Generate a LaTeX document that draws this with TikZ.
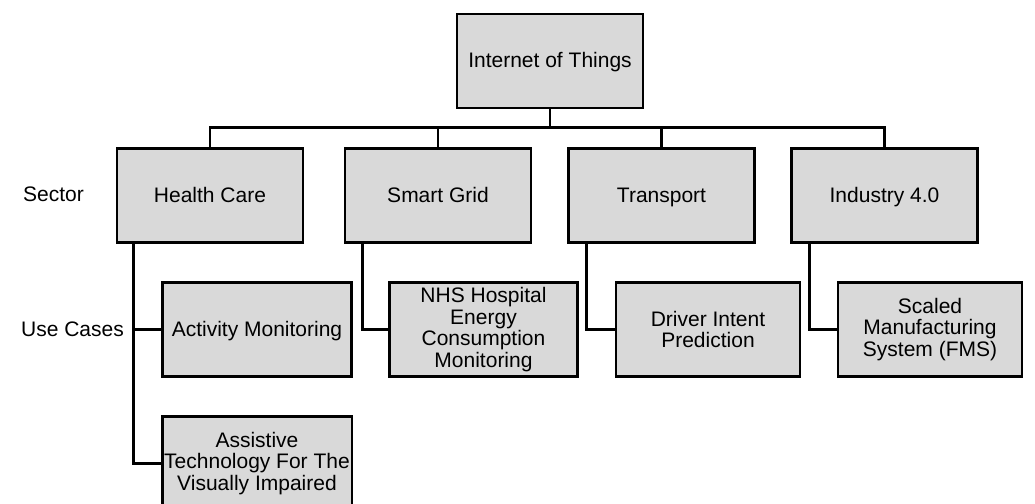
\documentclass[tikz,border=0pt]{standalone}
\usepackage{fontspec}
\setmainfont{Liberation Sans}
\definecolor{boxfill}{HTML}{D9D9D9}
\begin{document}
\begin{tikzpicture}[x=1pt,y=-1pt,
  every node/.style={font=\fontsize{21}{21.7}\selectfont},
  box/.style={draw=black,line width=2.6pt,fill=boxfill,minimum width=186pt,minimum height=94pt,inner sep=2pt,align=center},
  oneline/.style={text height=16pt,text depth=3pt},
  conn/.style={draw=black,line width=2.6pt},
  lbl/.style={inner sep=0pt,text height=16pt,text depth=3pt}]
\useasboundingbox (0,0) rectangle (1035,503);
\clip (0,0) rectangle (1035,503);
\node[box,oneline] (root) at (550,61) {Internet of Things};
\node[box,oneline] (hc) at (210,195.5) {Health Care};
\node[box,oneline] (sg) at (438,195.5) {Smart Grid};
\node[box,oneline] (tr) at (661.5,195.5) {Transport};
\node[box,oneline] (in) at (884.5,195.5) {Industry 4.0};
\node[box,oneline,minimum width=189pt] (act) at (257,329.5) {Activity Monitoring};
\node[box,minimum width=188pt] (nhs) at (483.5,329.5) {NHS Hospital\\Energy\\Consumption\\Monitoring};
\node[box,minimum width=184pt] (drv) at (708,329.5) {Driver Intent\\Prediction};
\node[box,minimum width=184pt] (fms) at (930,329.5) {Scaled\\Manufacturing\\System (FMS)};
\node[box,minimum width=189pt] (ass) at (257,463.5) {Assistive\\Technology For The\\Visually Impaired};
\node[lbl] (sector) at (53.5,195) {Sector};
\node[lbl] (uc) at (72.5,330) {Use Cases};
% bus
\draw[conn] (root.south) -- ++(0,20);
\draw[conn] (hc.north) -- ++(0,-20) -| (in.north);
\draw[conn] (sg.north) -- ++(0,-20);
\draw[conn] (tr.north) -- ++(0,-20);
% use cases
\draw[conn] ([xshift=18pt]hc.south west) |- (ass.west);
\draw[conn] ([xshift=18pt]hc.south west) |- (act.west);
\draw[conn] ([xshift=19pt]sg.south west) |- (nhs.west);
\draw[conn] ([xshift=19pt]tr.south west) |- (drv.west);
\draw[conn] ([xshift=19pt]in.south west) |- (fms.west);
\end{tikzpicture}
\end{document}
